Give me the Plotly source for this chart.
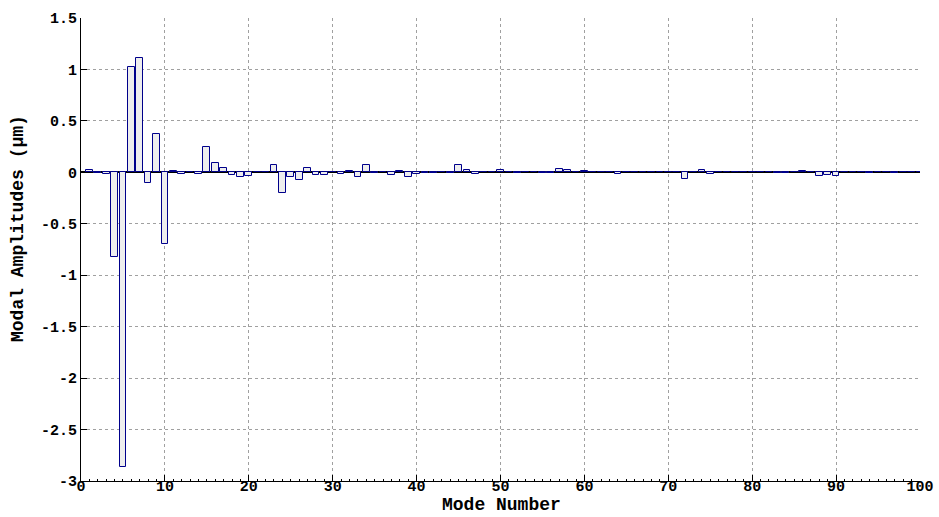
import plotly.graph_objects as go

modes = list(range(1, 101))
amplitudes = [
    0.02, -0.005, -0.015, -0.82, -2.86, 1.02, 1.11, -0.10, 0.37, -0.70,
    0.01, -0.02, 0.005, -0.015, 0.25, 0.09, 0.04, -0.03, -0.05, -0.04,
    0.0, 0.005, 0.07, -0.20, -0.05, -0.07, 0.045, -0.03, -0.03, 0.0,
    -0.02, 0.015, -0.045, 0.07, -0.01, 0.0, -0.03, 0.015, -0.045, -0.015,
    -0.005, -0.005, 0.003, -0.005, 0.07, 0.025, -0.02, 0.005, 0.003, 0.02,
    0.008, -0.003, 0.005, 0.008, -0.003, -0.003, 0.03, 0.02, 0.005, 0.015,
    0.0, 0.005, 0.0, -0.015, 0.005, 0.005, 0.0, 0.0, 0.0, 0.0,
    0.008, -0.065, 0.0, 0.02, -0.02, 0.008, 0.0, 0.0, 0.0, 0.0,
    0.0, 0.003, -0.003, -0.003, 0.003, 0.01, 0.0, -0.04, -0.027, -0.035,
    0.0, 0.008, 0.0, -0.008, 0.0, 0.003, -0.003, 0.0, 0.0, 0.0,
]

x_ticks = [0, 10, 20, 30, 40, 50, 60, 70, 80, 90, 100]
y_ticks = [-3, -2.5, -2, -1.5, -1, -0.5, 0, 0.5, 1, 1.5]
y_tick_text = ["-3", "-2.5", "-2", "-1.5", "-1", "-0.5", "0", "0.5", "1", "1.5"]

font_family = "Liberation Mono, Courier New, monospace"
tick_font = dict(family=font_family, size=15, color="black", weight="bold")

W, H = 939, 517
L, R, T, B = 81, 19, 18, 36
pw = W - L - R
ph = H - T - B

fig = go.Figure()
fig.add_trace(go.Bar(
    x=modes, y=amplitudes, width=0.8,
    marker=dict(color="#eeeeee", line=dict(color="#00008B", width=1)),
    showlegend=False,
))

fig.update_layout(
    width=W, height=H,
    margin=dict(l=L, r=R, t=T, b=B),
    plot_bgcolor="white", paper_bgcolor="white",
    font=dict(family=font_family, size=13, color="black"),
    bargap=0,
    annotations=[
        dict(text="<b>Mode Number</b>", xref="paper", yref="paper",
             x=(501 - L) / pw, y=(H - B - 517) / ph,
             showarrow=False, font=dict(family=font_family, size=18, color="black"),
             xanchor="center", yanchor="bottom"),
        dict(text="<b>Modal Amplitudes (μm)</b>", xref="paper", yref="paper",
             x=(18 - L) / pw, y=(H - B - 229) / ph, showarrow=False,
             textangle=-90, font=dict(family=font_family, size=18, color="black"),
             xanchor="center", yanchor="middle"),
    ],
)

fig.update_xaxes(
    range=[0, 100], tickvals=x_ticks, automargin=False,
    showgrid=True, gridcolor="#a0a0a0", griddash="dot", gridwidth=1,
    showline=True, linecolor="black", linewidth=1,
    ticks="inside", ticklen=6, tickcolor="black",
    minor=dict(dtick=1, ticks="inside", ticklen=2, tickcolor="black", showgrid=False),
    zeroline=False, ticklabelstandoff=-9,
    tickfont=tick_font,
)
fig.update_yaxes(
    range=[-3, 1.5], tickvals=y_ticks, ticktext=y_tick_text, automargin=False,
    showgrid=True, gridcolor="#a0a0a0", griddash="dot", gridwidth=1,
    showline=True, linecolor="black", linewidth=1,
    ticks="inside", ticklen=6, tickcolor="black",
    zeroline=True, zerolinecolor="black", zerolinewidth=1.5,
    tickfont=tick_font,
)

fig.write_html("out.html", config={"displayModeBar": False},
               post_script="document.body.style.margin='0';")
